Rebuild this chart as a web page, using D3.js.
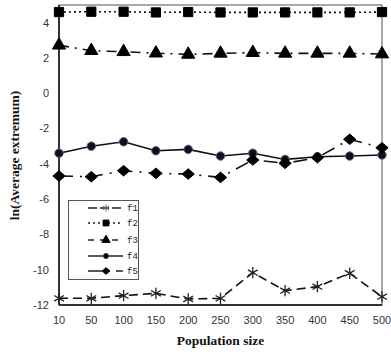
<!DOCTYPE html>
<html><head><meta charset="utf-8">
<script src="https://cdn.jsdelivr.net/npm/d3@7"></script>
<style>body{margin:0;background:#fff}</style>
</head><body>
<svg id="c" width="391" height="354"></svg>
<script>
const popSizes = ["10","50","100","150","200","250","300","350","400","450","500"];
const f1 = [-11.62,-11.62,-11.47,-11.34,-11.66,-11.62,-10.17,-11.19,-10.96,-10.2,-11.53];
const f2 = [4.6,4.62,4.62,4.58,4.6,4.58,4.58,4.58,4.58,4.58,4.6];
const f3 = [2.72,2.41,2.35,2.27,2.2,2.26,2.3,2.26,2.26,2.26,2.22];
const f4 = [-3.4,-3.0,-2.75,-3.26,-3.18,-3.56,-3.4,-3.75,-3.6,-3.56,-3.5];
const f5 = [-4.69,-4.73,-4.39,-4.54,-4.58,-4.77,-3.78,-3.97,-3.65,-2.61,-3.09];
const yTicks = [-12,-10,-8,-6,-4,-2,0,2,4];
const seriesNames = ["f1","f2","f3","f4","f5"];

const svg = d3.select("#c");
const L=59, R=382, T=5, B=305;
const x = d3.scalePoint().domain(popSizes).range([L,R]);
const y = d3.scaleLinear().domain([-12,5]).range([B,T]);

// wide diamond symbol
const wideDiamond = {draw(ctx, size){ const r=Math.sqrt(size)/1.6; ctx.moveTo(0,-r*0.95); ctx.lineTo(r*1.1,0); ctx.lineTo(0,r*0.95); ctx.lineTo(-r*1.1,0); ctx.closePath(); }};

const styles = {
  f1:{data:f1, dash:"9,5", sym:d3.symbolAsterisk, size:90, fill:"none", stroke:"#222"},
  f2:{data:f2, dash:"2,3", sym:d3.symbolSquare, size:85, fill:"#000", stroke:"#000"},
  f3:{data:f3, dash:"10,6,2,6", sym:d3.symbolTriangle, size:75, fill:"#000", stroke:"#000"},
  f4:{data:f4, dash:null, sym:d3.symbolCircle, size:55, fill:"#111", stroke:"#6a4a9a"},
  f5:{data:f5, dash:"14,7,2,7", sym:wideDiamond, size:80, fill:"#000", stroke:"#000"}
};

// frame
svg.append("rect").attr("x",L).attr("y",T).attr("width",R-L).attr("height",B-T)
  .attr("fill","none").attr("stroke","#555").attr("stroke-width",1);
svg.append("line").attr("x1",L).attr("x2",L).attr("y1",T).attr("y2",B).attr("stroke","#333").attr("stroke-width",2);
svg.append("line").attr("x1",L).attr("x2",R).attr("y1",B).attr("y2",B).attr("stroke","#333").attr("stroke-width",2);

// ticks labels
svg.append("g").selectAll("text").data(yTicks).join("text")
  .attr("x",49).attr("y",d=>y(d)).attr("dy","0.36em").attr("text-anchor","end")
  .attr("font-family","Liberation Sans, Arial, sans-serif").attr("font-size",11).attr("fill","#333")
  .text(d=>d);
svg.append("g").selectAll("text").data(popSizes).join("text")
  .attr("x",d=>x(d)).attr("y",324).attr("text-anchor","middle")
  .attr("font-family","Liberation Sans, Arial, sans-serif").attr("font-size",11).attr("fill","#333")
  .text(d=>d);

// titles
svg.append("text").attr("x",(L+R)/2).attr("y",345).attr("text-anchor","middle")
  .attr("font-family","Liberation Serif, Times New Roman, serif").attr("font-weight","bold").attr("font-size",13.5)
  .attr("fill","#111").text("Population size");
svg.append("text").attr("transform","translate(19,155.5) rotate(-90)").attr("text-anchor","middle")
  .attr("font-family","Liberation Serif, Times New Roman, serif").attr("font-weight","bold").attr("font-size",13.5)
  .attr("fill","#111").text("ln(Average extremum)");

const line = d3.line().x((d,i)=>x(popSizes[i])).y(d=>y(d));
seriesNames.forEach(n=>{
  const s = styles[n];
  svg.append("path").attr("d",line(s.data)).attr("fill","none").attr("stroke","#111")
    .attr("stroke-width",1.6).attr("stroke-dasharray",s.dash);
  svg.append("g").selectAll("path").data(s.data).join("path")
    .attr("transform",(d,i)=>`translate(${x(popSizes[i])},${y(d)})`)
    .attr("d",d3.symbol(s.sym,s.size)())
    .attr("fill",s.fill).attr("stroke",s.stroke).attr("stroke-width",n==="f1"?1.3:1);
});

// legend
const lg = svg.append("g");
lg.append("rect").attr("x",68.5).attr("y",200.5).attr("width",70).attr("height",79)
  .attr("fill","#fff").attr("stroke","#555").attr("stroke-width",1);
const ly = [208,223,240,256,271];
const legDash = {f1:"9,3", f2:"2,3", f3:"6,6", f4:null, f5:"14,6,2,6"};
seriesNames.forEach((n,i)=>{
  const s = styles[n];
  lg.append("line").attr("x1",88).attr("x2",123).attr("y1",ly[i]).attr("y2",ly[i])
    .attr("stroke","#222").attr("stroke-width",1.4).attr("stroke-dasharray",legDash[n]);
  lg.append("path").attr("transform",`translate(106,${ly[i]})`)
    .attr("d",d3.symbol(s.sym,s.size*0.4)()).attr("fill",s.fill==="none"?"none":"#000").attr("stroke",n==="f1"?"#666":s.stroke).attr("stroke-width",1);
  lg.append("text").attr("x",127).attr("y",ly[i]).attr("dy","0.35em")
    .attr("font-family","Liberation Mono, Courier New, monospace").attr("font-size",9).attr("fill","#222").text(n);
});
</script>
</body></html>
